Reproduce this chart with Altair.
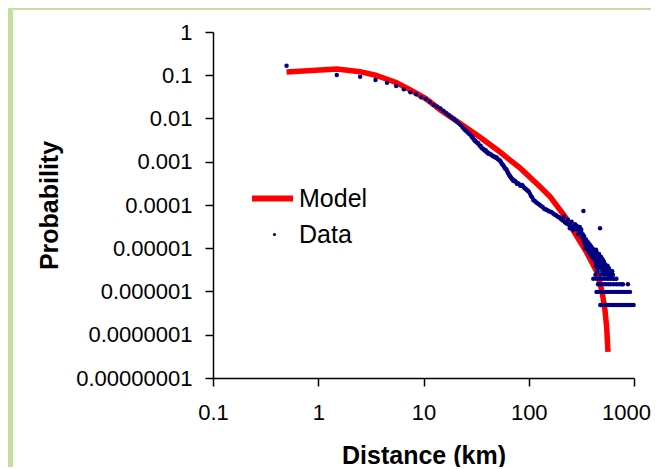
import altair as alt
import pandas as pd

# ---------------- data ----------------
x_ticks = [0.1, 1, 10, 100, 1000]
y_ticks = [1, 0.1, 0.01, 0.001, 0.0001, 0.00001, 0.000001, 0.0000001, 0.00000001]

model_km = [0.5, 1.5, 2.5, 3.5, 5.5, 7.5, 10.5, 14.5, 22.5, 34, 53, 83, 128, 160,
            221, 275, 350, 443, 475, 500, 530, 550, 566]
model_prob = [0.119, 0.140, 0.121, 0.100, 0.068, 0.046, 0.029, 0.0157, 0.0076, 0.0038,
              0.0017, 0.00071, 0.000265, 0.000155, 5.4e-5, 2.2e-5, 8.5e-6, 2.87e-6,
              1.55e-6, 9.1e-7, 3.7e-7, 1.5e-7, 4.0e-8]

band_km = [0.5, 1.5, 2.5, 3.5, 4.5, 5.5, 6.5, 7.5, 8.5, 9.5, 10.5, 11.5, 12.5, 13.5,
           14.5, 15.5, 16.5, 17.5, 18.5, 19.5, 20.5, 21.5, 22.5, 23.5, 24.5, 25.5, 26.5,
           27.5, 28.5, 29.5, 30.5, 31.5, 32.5, 33.5, 34.5, 35.5, 36.5, 37.5, 38.5, 39.5,
           40.5, 41.5, 42.5, 44.5, 46.5, 48.5, 50.5, 52.5, 54.5, 56.5, 58.5, 60.5, 62.5,
           64.5, 66.5, 68.5, 70.5, 72.5, 75.5, 78.5, 81.5, 84.5, 88.5, 92.5, 96.5, 100.5,
           105.5, 110.5, 115.5, 120.5, 127.5, 135.5, 142.5, 150.5, 160.5, 170.5, 180.5,
           190.5, 200.5, 210.5, 220.5, 230.5, 240.5, 250.5, 260.5, 270.5, 280.5, 290.5,
           300.5, 310.5, 320.5, 330.5, 340.5, 355.5, 370.5, 385.5, 400.5, 415.5, 430.5,
           445.5, 460.5, 475.5, 495.5, 515.5, 535.5, 555.5]
band_prob = [0.166, 0.101, 0.0925, 0.0776, 0.0673, 0.0564, 0.0473, 0.0403, 0.0363, 0.0309,
             0.0282, 0.0245, 0.0205, 0.0188, 0.0170, 0.0150, 0.0132, 0.0118, 0.0106, 0.0097,
             0.0088, 0.0079, 0.0071, 0.0062, 0.0056, 0.0051, 0.0047, 0.0043, 0.0039, 0.0035,
             0.0031, 0.0029, 0.0027, 0.0025, 0.0023, 0.0021, 0.0020, 0.0019, 0.0018, 0.0017,
             0.00165, 0.0016, 0.0015, 0.00142, 0.00132, 0.00124, 0.00118, 0.00108, 0.00098,
             0.00085, 0.00076, 0.00068, 0.00060, 0.00052, 0.00046, 0.00041, 0.00039, 0.00037,
             0.00034, 0.00032, 0.00030, 0.00028, 0.00027, 0.00024, 0.00022, 0.00020, 0.00016,
             0.00013, 0.00012, 0.00011, 0.00010, 9.0e-5, 8.0e-5, 7.6e-5, 7.0e-5, 6.4e-5,
             5.9e-5, 5.3e-5, 4.9e-5, 4.4e-5, 4.0e-5, 3.7e-5, 3.5e-5, 3.3e-5, 3.1e-5, 3.0e-5,
             2.9e-5, 2.7e-5, 2.6e-5, 2.3e-5, 1.8e-5, 1.55e-5, 1.3e-5, 1.1e-5, 1.0e-5, 9.0e-6,
             8.0e-6, 7.4e-6, 6.8e-6, 6.4e-6, 5.9e-6, 5.4e-6, 4.4e-6, 3.9e-6, 3.4e-6, 3.0e-6]

# in-between points that give the band its thickness
band2_km = [25.0, 27.0, 29.0, 31.0, 33.0, 35.0, 37.0, 39.0, 41.0, 43.5, 45.5, 47.5, 49.5,
            51.5, 53.5, 55.5, 57.5, 59.5, 61.5, 63.5, 65.5, 67.5, 69.5, 71.5, 74.0, 77.0,
            80.0, 83.0, 86.5, 90.5, 94.5, 98.5, 103, 108, 113, 118, 124, 131, 139, 146,
            155, 165, 175, 185, 195, 205, 225]
band2_prob = [0.0055, 0.0045, 0.0038, 0.0031, 0.0027, 0.0023, 0.0020, 0.00185, 0.00155,
              0.00150, 0.00135, 0.00130, 0.00125, 0.00112, 0.00105, 0.00090, 0.00082,
              0.00070, 0.00066, 0.00055, 0.00049, 0.00044, 0.00040, 0.00036, 0.00036,
              0.00031, 0.00031, 0.00028, 0.00029, 0.00025, 0.00023, 0.00021, 0.00018,
              0.00015, 0.000125, 0.000115, 0.000105, 9.5e-5, 8.3e-5, 7.9e-5, 7.2e-5,
              6.8e-5, 6.0e-5, 5.6e-5, 5.2e-5, 4.6e-5, 3.9e-5]

scatter_km = [215.5, 235.5, 245.5, 255.5, 265.5, 275.5, 285.5, 295.5, 305.5, 315.5, 325.5,
              335.5, 345.5, 350.5, 362.5, 375.5, 380.5, 392.5, 398.5, 405.5, 420.5, 425.5,
              440.5, 450.5, 465.5, 470.5, 485.5, 490.5, 505.5, 525.5, 545.5, 565.5, 580.5,
              600.5, 330.5, 475.5]
scatter_prob = [5.4e-5, 4.6e-5, 2.9e-5, 4.1e-5, 2.6e-5, 3.6e-5, 3.3e-5, 2.1e-5, 3.1e-5,
                2.7e-5, 2.1e-5, 1.9e-5, 1.0e-5, 1.6e-5, 1.4e-5, 7.8e-6, 1.2e-5, 1.1e-5,
                6.4e-6, 9.8e-6, 8.8e-6, 5.4e-6, 8.3e-6, 4.4e-6, 7.4e-6, 3.9e-6, 6.4e-6,
                3.4e-6, 5.4e-6, 4.4e-6, 3.9e-6, 3.4e-6, 2.9e-6, 2.45e-6, 7.3e-5, 2.9e-5]

# the dense blob between 300 and 620 km
cluster_km = [302, 315, 328, 338, 345, 358, 365, 378, 383, 390, 398, 404, 410, 418, 422,
              427, 432, 438, 442, 447, 452, 458, 462, 467, 478, 483, 488, 498, 503, 508,
              518, 523, 528, 548, 553, 578, 583, 608, 613,
              370, 395, 412, 435, 455, 472, 493, 512, 535, 560, 590, 620]
cluster_prob = [3.0e-5, 2.4e-5, 2.0e-5, 1.5e-5, 1.2e-5, 1.2e-5, 9.0e-6, 1.05e-5, 8.5e-6,
                6.9e-6, 9.0e-6, 7.0e-6, 5.9e-6, 7.8e-6, 6.4e-6, 4.9e-6, 3.9e-6, 7.4e-6,
                5.4e-6, 4.4e-6, 3.4e-6, 6.9e-6, 4.9e-6, 3.9e-6, 5.9e-6, 4.4e-6, 3.43e-6,
                4.9e-6, 3.92e-6, 3.43e-6, 4.9e-6, 3.43e-6, 2.94e-6, 3.92e-6, 2.94e-6,
                3.43e-6, 2.45e-6, 2.94e-6, 2.45e-6,
                1.3e-5, 1.0e-5, 8.3e-6, 9.3e-6, 5.9e-6, 5.4e-6, 5.9e-6, 4.4e-6, 3.92e-6,
                3.92e-6, 2.94e-6, 2.94e-6]

# tail: rows of single-event levels (probability of 1..6 events)
tail_levels = [4.9e-7, 9.8e-7, 1.47e-6, 1.96e-6, 2.45e-6, 2.94e-6]
tail_rows_km = [
    [478.5, 500.5, 525.5, 550.5, 580.5, 610.5, 645.5, 680.5, 720.5, 760.5, 800.5, 845.5,
     890.5, 940.5, 990.5],
    [440.5, 465.5, 490.5, 520.5, 550.5, 580.5, 615.5, 650.5, 690.5, 730.5, 770.5, 815.5,
     860.5, 915.5],
    [455.5, 480.5, 510.5, 540.5, 570.5, 600.5, 640.5, 680.5, 720.5, 760.5, 785.5, 875.5],
    [410.5, 440.5, 470.5, 500.5, 530.5, 560.5, 590.5, 620.5, 650.5, 680.5],
    [430.5, 480.5, 520.5, 560.5, 600.5, 630.5],
    [450.5, 500.5, 540.5, 580.5],
]

# ---------------- tables ----------------
model_df = pd.DataFrame({"km": model_km, "prob": model_prob, "series": "Model"})
pts_km = band_km + band2_km + scatter_km + cluster_km
pts_prob = band_prob + band2_prob + scatter_prob + cluster_prob
for lvl, row in zip(tail_levels, tail_rows_km):
    pts_km += row
    pts_prob += [lvl] * len(row)
data_df = pd.DataFrame({"km": pts_km, "prob": pts_prob, "series": "Data"})

FONT = "Liberation Sans"
GREEN = "#c4df9b"
W, H = 421, 346
PAD = {"left": 205, "top": 24, "right": 17, "bottom": 89}

xscale = alt.Scale(type="log", domain=[0.1, 1000], nice=False)
yscale = alt.Scale(type="log", domain=[1e-8, 1], nice=False)

xaxis = alt.Axis(values=x_ticks, format=".1~f", grid=False, labelFlush=False,
                 labelOverlap=False, labelPadding=16, titleBaseline="alphabetic",
                 titleY=85, zindex=1,
                 labelOffset=alt.condition("datum.value == 1000", alt.value(-8), alt.value(0)))
yaxis = alt.Axis(values=y_ticks, format=".8~f", grid=False, labelFlush=False,
                 labelOverlap=False, labelPadding=13, titleBaseline="alphabetic",
                 titleX=-156, zindex=1)

one = pd.DataFrame({"k": [0]})
# decorative green frame strips (left and top) of the slide background
frame_left = alt.Chart(one).mark_rect(color=GREEN).encode(
    x=alt.value(-210), x2=alt.value(-200), y=alt.value(-30), y2=alt.value(500)
)
frame_top = alt.Chart(one).mark_rect(color=GREEN).encode(
    x=alt.value(-210), x2=alt.value(500), y=alt.value(-30), y2=alt.value(-22)
)

line = alt.Chart(model_df).mark_line(strokeWidth=5.5, clip=False).encode(
    x=alt.X("km:Q", scale=xscale, axis=xaxis, title="Distance (km)"),
    y=alt.Y("prob:Q", scale=yscale, axis=yaxis, title="Probability"),
    color=alt.Color("series:N", scale=alt.Scale(domain=["Model"], range=["#ff0000"]),
                    legend=alt.Legend(title=None, orient="none", legendX=36, legendY=143,
                                      symbolType="stroke", symbolSize=1681,
                                      symbolStrokeWidth=6, labelFontSize=25,
                                      labelOffset=3, labelFont=FONT, labelColor="#000",
                                      padding=0)),
)

points = alt.Chart(data_df).mark_circle(size=20, opacity=1).encode(
    x=alt.X("km:Q", scale=xscale),
    y=alt.Y("prob:Q", scale=yscale),
    color=alt.Color("series:N", scale=alt.Scale(domain=["Data"], range=["#000080"]),
                    legend=alt.Legend(title=None, orient="none", legendX=49, legendY=190,
                                      symbolType="circle", symbolSize=10,
                                      symbolOpacity=1, labelFontSize=25,
                                      labelOffset=12, labelFont=FONT, labelColor="#000",
                                      padding=0)),
)

chart = (
    alt.layer(frame_left, frame_top, line, points)
    .resolve_scale(color="independent")
    .properties(width=W, height=H, autosize="none", padding=PAD, background="white")
    .configure_view(stroke=None)
    .configure_axis(
        domainColor="#000", domainWidth=1.5, tickColor="#000", tickWidth=1.5,
        tickSize=8, labelFont=FONT, labelFontSize=22, labelColor="#000",
        titleFont=FONT, titleFontSize=25, titleFontWeight="bold", titleColor="#000",
    )
)

chart.save("out.html", embed_options={"renderer": "svg", "actions": False})
